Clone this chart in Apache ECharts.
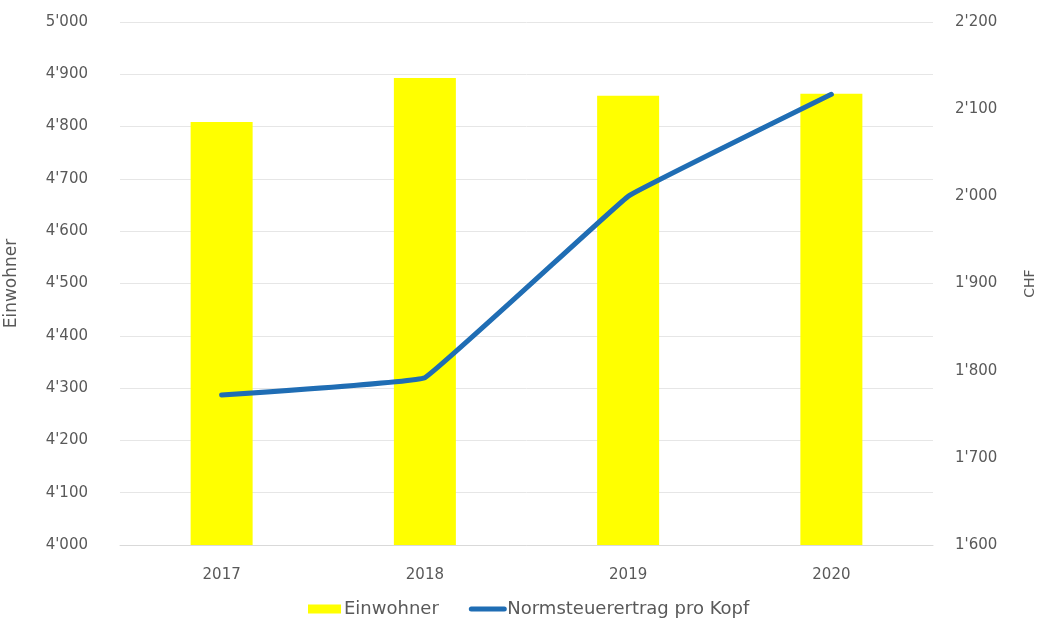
<!DOCTYPE html>
<html><head><meta charset="utf-8">
<script src="https://cdn.jsdelivr.net/npm/echarts@6/dist/echarts.min.js"></script>
<style>html,body{margin:0;padding:0;background:#fff}#c{width:1053px;height:627px}</style>
</head><body><div id="c"></div>
<script>
const categories = ['2017','2018','2019','2020'];
const einwohner = [4809, 4893, 4859, 4863];
const normsteuer = [1772, 1792, 2000, 2117];

function fmt(v){
  const s = String(Math.round(v));
  return s.replace(/\B(?=(\d{3})+(?!\d))/g, "'");
}
const txt = '#595959';
const font = 'DejaVu Sans';
const chart = echarts.init(document.getElementById('c'));
chart.setOption({
  animation:false,
  textStyle:{fontFamily:font},
  grid:{left:120,right:120,top:22,bottom:82,outerBoundsMode:'none',containLabel:false},
  legend:{
    bottom:4, left:303, itemGap:30, itemWidth:33, itemHeight:9,
    textStyle:{color:txt,fontSize:18,fontFamily:font,padding:[0,0,0,-2]},
    data:[
      {name:'Einwohner',icon:'rect'},
      {name:'Normsteuerertrag pro Kopf',itemStyle:{opacity:0},lineStyle:{width:5,color:'#1f6db4'}}
    ]
  },
  xAxis:{type:'category',data:categories,
    axisLine:{lineStyle:{color:'#d9d9d9'}},axisTick:{show:false},
    axisLabel:{color:txt,fontSize:15,margin:23}},
  yAxis:[
    {type:'value',min:4000,max:5000,interval:100,name:'Einwohner',nameLocation:'middle',nameGap:100,
     nameTextStyle:{color:txt,fontSize:17},
     axisLabel:{color:txt,fontSize:15,margin:32,formatter:fmt},
     splitLine:{lineStyle:{color:'#e6e6e6'}},axisLine:{show:false},axisTick:{show:false}},
    {type:'value',min:1600,max:2200,interval:100,name:'CHF',nameLocation:'middle',nameGap:90,
     nameTextStyle:{color:txt,fontSize:14},
     axisLabel:{color:txt,fontSize:15,margin:22,formatter:fmt},
     splitLine:{show:false},axisLine:{show:false},axisTick:{show:false}}
  ],
  series:[
    {name:'Einwohner',type:'bar',data:einwohner,barWidth:62,itemStyle:{color:'#ffff00'}},
    {name:'Normsteuerertrag pro Kopf',type:'line',yAxisIndex:1,data:normsteuer,smooth:0.05,
     symbol:'none',lineStyle:{color:'#1f6db4',width:5,cap:'round'},itemStyle:{color:'#1f6db4'}}
  ]
});
</script></body></html>
